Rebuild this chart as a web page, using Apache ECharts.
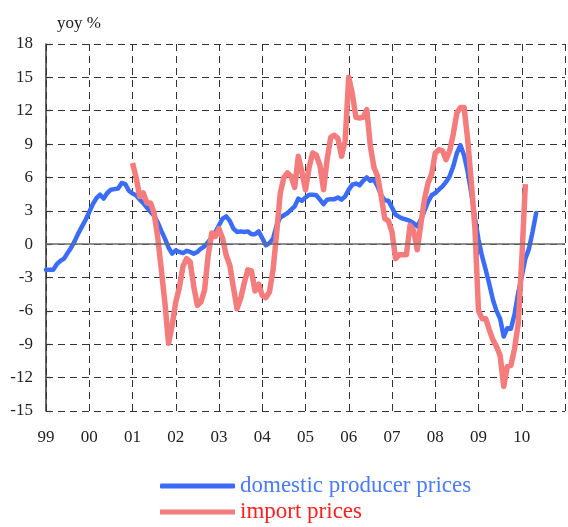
<!DOCTYPE html>
<html>
<head>
<meta charset="utf-8">
<script src="https://cdn.jsdelivr.net/npm/echarts@6/dist/echarts.min.js"></script>
<style>
  html, body { margin: 0; padding: 0; background: #ffffff; }
  #chart { width: 568px; height: 527px; }
</style>
</head>
<body>
<div id="chart"></div>
<script>
// Year-on-year change, monthly observations
const firstYear = 1999;
const lastYear = 2011;
const yearLabels = ['99', '00', '01', '02', '03', '04', '05', '06', '07', '08', '09', '10'];
const yTicks = { min: -15, max: 18, step: 3 };

// Months after January 1999 at which each series starts
const domesticStartMonth = 0;
const importStartMonth = 24;

// Domestic producer prices, yoy %, Jan 1999 - May 2010
const domesticProducer = [
  -2.3, -2.3, -2.3, -1.8, -1.5, -1.3, -0.8, -0.3, 0.3, 1.0, 1.6, 2.2,
  2.9, 3.6, 4.15, 4.45, 4.1, 4.6, 4.9, 4.95, 5.0, 5.5, 5.4, 4.8,
  4.55, 4.4, 4.0, 3.7, 3.3, 2.9, 2.55, 1.95, 1.2, 0.5, -0.3, -0.85,
  -0.55, -0.7, -0.8, -0.6, -0.7, -0.85, -0.7, -0.4, -0.2, 0.2, 0.6, 1.1,
  1.7, 2.3, 2.5, 2.1, 1.4, 1.1, 1.15, 1.1, 1.15, 0.9, 0.9, 1.15,
  0.55, -0.1, 0.1, 0.5, 1.7, 2.4, 2.6, 2.8, 3.1, 3.4, 4.1, 3.9,
  4.2, 4.45, 4.45, 4.4, 4.0, 3.6, 4.0, 4.05, 4.05, 4.2, 4.0, 4.3,
  4.9, 5.35, 5.45, 5.3, 5.7, 6.0, 5.7, 5.8, 5.2, 4.4, 3.95, 3.9,
  3.3, 2.65, 2.45, 2.3, 2.2, 2.1, 1.9, 1.6, 2.2, 3.0, 3.8, 4.4,
  4.6, 4.9, 5.2, 5.6, 6.1, 7.0, 8.2, 8.9, 8.0, 6.5, 4.6, 2.4,
  0.4, -1.1, -2.3, -3.6, -5.0, -6.0, -6.7, -8.3, -7.55, -7.6, -6.3, -4.4,
  -2.9, -1.3, -0.4, 1.1, 2.8
];

// Import prices, yoy %, Jan 2001 - Feb 2010
const importPrices = [
  7.3, 6.0, 4.3, 4.6, 3.7, 3.7, 2.8, 0.6, -2.3, -5.3, -8.9, -7.3,
  -5.2, -3.9, -2.0, -1.3, -1.6, -3.8, -5.5, -5.2, -4.1, -1.0, 1.0, 0.7,
  1.4, 0.5, -1.0, -1.9, -3.9, -5.8, -4.9, -3.5, -2.3, -2.4, -4.2, -3.6,
  -4.6, -4.8, -4.3, -2.3, 1.0, 4.6, 6.0, 6.4, 6.1, 5.1, 7.9, 6.5,
  4.9, 6.9, 8.2, 8.0, 7.1, 4.9, 7.6, 9.6, 9.8, 9.5, 7.9, 9.3,
  15.0, 13.5, 11.4, 11.35, 11.4, 12.1, 8.8, 6.9, 6.1, 4.3, 2.3, 2.1,
  1.1, -1.3, -0.95, -0.95, -0.95, 1.7, 1.2, -0.5, 1.8, 4.0, 5.5, 6.3,
  8.2, 8.5, 8.4, 7.6, 8.4, 9.9, 11.8, 12.3, 12.3, 9.4, 5.6, 1.5,
  -6.0, -6.7, -6.7, -7.7, -8.6, -9.2, -10.0, -12.8, -11.0, -10.9, -9.4, -7.2,
  -1.5, 5.4
];

const seriesNames = ['domestic producer prices', 'import prices'];
const seriesColors = ['#3b6cf7', '#f47c7c'];
const legendTextColors = ['#4a7af5', '#ff1f1f'];

function toPoints(values, startMonth) {
  return values.map((v, i) => [firstYear + (startMonth + i) / 12, v]);
}

const serif = '"Liberation Serif", "DejaVu Serif", serif';
const gridDash = { color: '#333333', width: 1, type: [7, 5] };

function legendRow(index, top, icon) {
  return {
    orient: 'vertical',
    left: 160,
    top: top,
    padding: 0,
    itemWidth: 75,
    itemHeight: 5,
    selectedMode: false,
    itemStyle: { borderWidth: 0 },
    textStyle: { fontFamily: serif, fontSize: 23, lineHeight: 24, color: legendTextColors[index] },
    data: [{ name: seriesNames[index], icon: icon }]
  };
}

const chart = echarts.init(document.getElementById('chart'), null, { renderer: 'canvas' });

chart.setOption({
  animation: false,
  backgroundColor: '#ffffff',
  grid: { left: 46, right: 2, top: 44, bottom: 116, containLabel: false },
  graphic: [{
    type: 'text',
    left: 57,
    top: 15,
    style: { text: 'yoy %', fontFamily: serif, fontSize: 17, fill: '#222222' }
  }],
  legend: [
    legendRow(0, 474, 'roundRect'),
    legendRow(1, 500, 'rect')
  ],
  xAxis: {
    type: 'value',
    min: firstYear,
    max: lastYear,
    interval: 1,
    axisLine: { show: false },
    axisTick: { show: false },
    splitLine: { show: true, lineStyle: gridDash },
    axisLabel: {
      margin: 18,
      fontFamily: serif,
      fontSize: 17,
      color: '#222222',
      formatter: (v) => yearLabels[Math.round(v) - firstYear] || ''
    }
  },
  yAxis: {
    type: 'value',
    min: yTicks.min,
    max: yTicks.max,
    interval: yTicks.step,
    axisLine: { show: true, lineStyle: { color: '#333333', width: 1.5 } },
    axisTick: { show: true, inside: true, length: 5, lineStyle: { color: '#333333', width: 1.2 } },
    splitLine: { show: true, lineStyle: gridDash },
    axisLabel: { margin: 13, fontFamily: serif, fontSize: 17, color: '#222222' }
  },
  series: [
    {
      // zero reference line beneath the data lines
      type: 'line',
      name: '_zero',
      data: [],
      z: 1,
      silent: true,
      markLine: {
        silent: true,
        symbol: ['none', 'none'],
        label: { show: false },
        lineStyle: { color: '#6b6b6b', width: 1.5, type: 'solid' },
        data: [{ yAxis: 0 }]
      }
    },
    {
      name: seriesNames[0],
      type: 'line',
      data: toPoints(domesticProducer, domesticStartMonth),
      showSymbol: false,
      color: seriesColors[0],
      lineStyle: { color: seriesColors[0], width: 4.5, join: 'round', cap: 'round' },
      z: 3
    },
    {
      name: seriesNames[1],
      type: 'line',
      data: toPoints(importPrices, importStartMonth),
      showSymbol: false,
      color: seriesColors[1],
      lineStyle: { color: seriesColors[1], width: 5.5, join: 'round' },
      z: 4
    }
  ]
});
</script>
</body>
</html>
